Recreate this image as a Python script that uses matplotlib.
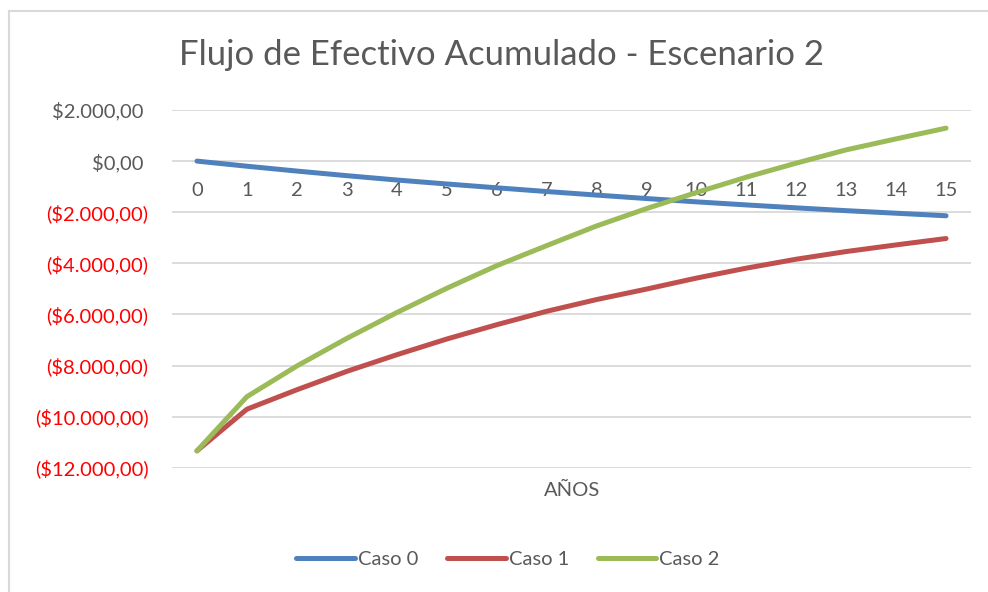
import matplotlib
matplotlib.use("Agg")
import matplotlib.pyplot as plt
from matplotlib.lines import Line2D
from matplotlib.ticker import FixedLocator

plt.rcParams['font.family'] = ['Lato', 'DejaVu Sans']

anios = list(range(16))
caso_0 = [0, -200, -390, -570, -740, -895, -1045, -1190, -1330, -1465, -1595, -1715, -1830, -1940, -2040, -2140]
caso_1 = [-11340, -9710, -8950, -8230, -7580, -6965, -6405, -5880, -5420, -5010, -4580, -4190, -3840, -3540, -3280, -3030]
caso_2 = [-11340, -9220, -8020, -6940, -5930, -4980, -4095, -3310, -2540, -1860, -1230, -630, -80, 440, 870, 1290]
y_ticks = [2000, 0, -2000, -4000, -6000, -8000, -10000, -12000]

series = [("Caso 0", caso_0, "#4F81BD"),
          ("Caso 1", caso_1, "#C0504D"),
          ("Caso 2", caso_2, "#9BBB59")]

TXT = "#595959"
GRID = "#D9D9D9"

W, H = 988, 592
fig = plt.figure(figsize=(W / 100, H / 100), dpi=100)
ax = fig.add_axes([172 / W, 1 - 467.7 / H, (971 - 172) / W, (467.7 - 110) / H])

for name, vals, col in series:
    ax.plot(anios, vals, color=col, lw=3.6, solid_capstyle="round",
            solid_joinstyle="round", label=name, zorder=3)

ax.set_xlim(-0.5, 15.5)
ax.set_ylim(-12000, 2000)
ax.yaxis.set_major_locator(FixedLocator(y_ticks))


def money(v):
    s = f"{abs(v):,.2f}".replace(",", "X").replace(".", ",").replace("X", ".")
    return f"(${s})" if v < 0 else f"${s} "


ax.set_yticks(y_ticks)
ax.set_yticklabels([money(v) for v in y_ticks], fontsize=14.5)
for lbl, v in zip(ax.get_yticklabels(), y_ticks):
    lbl.set_color("#FF0000" if v < 0 else TXT)
ax.tick_params(axis="y", length=0, pad=17)

ax.grid(axis="y", color=GRID, lw=1.3, zorder=0)
for s in ax.spines.values():
    s.set_visible(False)

# category labels sit just under the zero line
ax.set_xticks(anios)
ax.set_xticklabels([])
ax.tick_params(axis="x", length=0)
for x in anios:
    ax.annotate(str(x), xy=(x, 0), xytext=(0, -15), textcoords="offset points",
                ha="center", va="top", fontsize=14.5, color=TXT, zorder=2)

fig.text(572 / W, 1 - 490 / H, "AÑOS", ha="center", va="center", fontsize=14.5, color=TXT)
fig.text(501 / W, 1 - 55 / H, "Flujo de Efectivo Acumulado - Escenario 2",
         ha="center", va="center", fontsize=25, color=TXT)

leg = fig.legend(loc="center", bbox_to_anchor=(508 / W, 1 - 559 / H), ncol=3,
                 frameon=False, fontsize=14.5, handlelength=2.9, handletextpad=0.15,
                 columnspacing=1.45, labelcolor=TXT)

fig.add_artist(Line2D([8.5 / W, 8.5 / W], [0, 1 - 11 / H], color=GRID, lw=1.5))
fig.add_artist(Line2D([8.5 / W, 1], [1 - 11 / H, 1 - 11 / H], color=GRID, lw=1.5))

fig.savefig("out.png", dpi=100)
